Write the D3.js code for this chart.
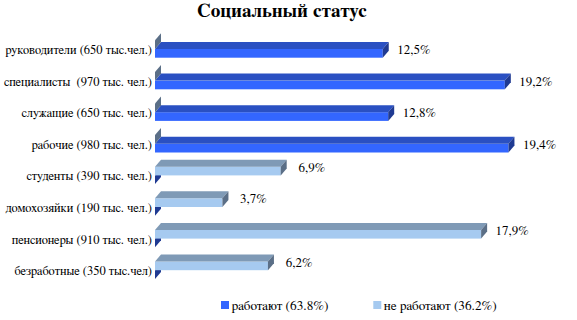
<!DOCTYPE html>
<html><head><meta charset="utf-8">
<script src="https://cdn.jsdelivr.net/npm/d3@7"></script>
<style>
html,body{margin:0;padding:0;background:#fff;}
svg{display:block;}
</style></head>
<body>
<svg id="chart" width="577" height="320"></svg>
<script>
const categories = [
  "руководители (650 тыс.чел.)",
  "специалисты  (970 тыс. чел.)",
  "служащие (650 тыс. чел.)",
  "рабочие (980 тыс. чел.)",
  "студенты (390 тыс. чел.)",
  "домохозяйки (190 тыс. чел.)",
  "пенсионеры (910 тыс. чел.)",
  "безработные (350 тыс.чел)"
];
const working    = [12.5, 19.2, 12.8, 19.4, 0, 0, 0, 0];
const notWorking = [0, 0, 0, 0, 6.9, 3.7, 17.9, 6.2];
const seriesNames = ["работают (63.8%)", "не работают (36.2%)"];
const titleText = "Социальный статус";

const FONT = "FreeSerif, 'Liberation Serif', serif";
const svg = d3.select("#chart");

const x = d3.scaleLinear().domain([0, 20]).range([155, 155 + 20 * 18.22]);
const y = d3.scaleBand().domain(categories).range([33.2, 33.2 + 8 * 31.6]).padding(0);
const barH = 8.7;
// upper slot = not working, lower slot = working
const ySub = d3.scaleBand().domain(["nw", "w"]).range([y.bandwidth() / 2 - barH, y.bandwidth() / 2 + barH]);

const DX = 6, DY = 7;
const styles = {
  w:  {front: "#3366ff", top: "#2a50c2", side: "#1f3a92"},
  nw: {front: "#a6caf0", top: "#7f9ab6", side: "#5b6f87"}
};

const rows = [];
categories.forEach((c, i) => {
  rows.push({cat: c, key: "w", v: working[i]});
  rows.push({cat: c, key: "nw", v: notWorking[i]});
});

const g = svg.append("g");
rows.forEach(r => {
  const st = styles[r.key];
  const x0 = x(0), x1 = x(r.v);
  const yf = y(r.cat) + ySub(r.key);
  const h = ySub.bandwidth();
  const bg = g.append("g");
  if (r.v > 0) {
    bg.append("rect").attr("x", x0).attr("y", yf).attr("width", x1 - x0).attr("height", h).attr("fill", st.front);
    bg.append("polygon").attr("points", [[x0, yf], [x1, yf], [x1 + DX, yf - DY], [x0 + DX, yf - DY]].map(p => p.join(",")).join(" ")).attr("fill", st.top);
  }
  bg.append("polygon").attr("points", [[x1, yf], [x1 + DX, yf - DY], [x1 + DX, yf + h - DY], [x1, yf + h]].map(p => p.join(",")).join(" ")).attr("fill", st.side);
});

// value labels
rows.filter(r => r.v > 0).forEach(r => {
  const yf = y(r.cat) + ySub(r.key);
  g.append("text")
    .attr("x", x(r.v) + 31)
    .attr("y", yf + 5)
    .attr("text-anchor", "middle")
    .style("font-family", FONT)
    .style("font-size", "13px")
    .attr("fill", "#000")
    .text(d3.format(".1f")(r.v).replace(".", ",") + "%");
});

// category labels
svg.append("g").selectAll("text").data(categories).join("text")
  .attr("x", 152)
  .attr("y", d => y(d) + y.bandwidth() / 2 + 5)
  .attr("text-anchor", "end")
  .style("font-family", FONT)
  .style("font-size", "12.5px")
  .style("white-space", "pre")
  .attr("fill", "#000")
  .text(d => d);

// title
svg.append("text")
  .attr("x", 282).attr("y", 17)
  .attr("text-anchor", "middle")
  .style("font-family", FONT)
  .style("font-size", "19px").style("font-weight", "bold")
  .text(titleText);

// legend
const legend = svg.append("g");
const legX = [221, 373.3];
seriesNames.forEach((name, i) => {
  legend.append("rect").attr("x", legX[i]).attr("y", 301).attr("width", 8).attr("height", 8)
    .attr("fill", i === 0 ? styles.w.front : styles.nw.front);
  legend.append("text").attr("x", legX[i] + 10.5).attr("y", 309.5)
    .style("font-family", FONT)
    .style("font-size", "13.3px").text(name);
});
</script>
</body></html>
